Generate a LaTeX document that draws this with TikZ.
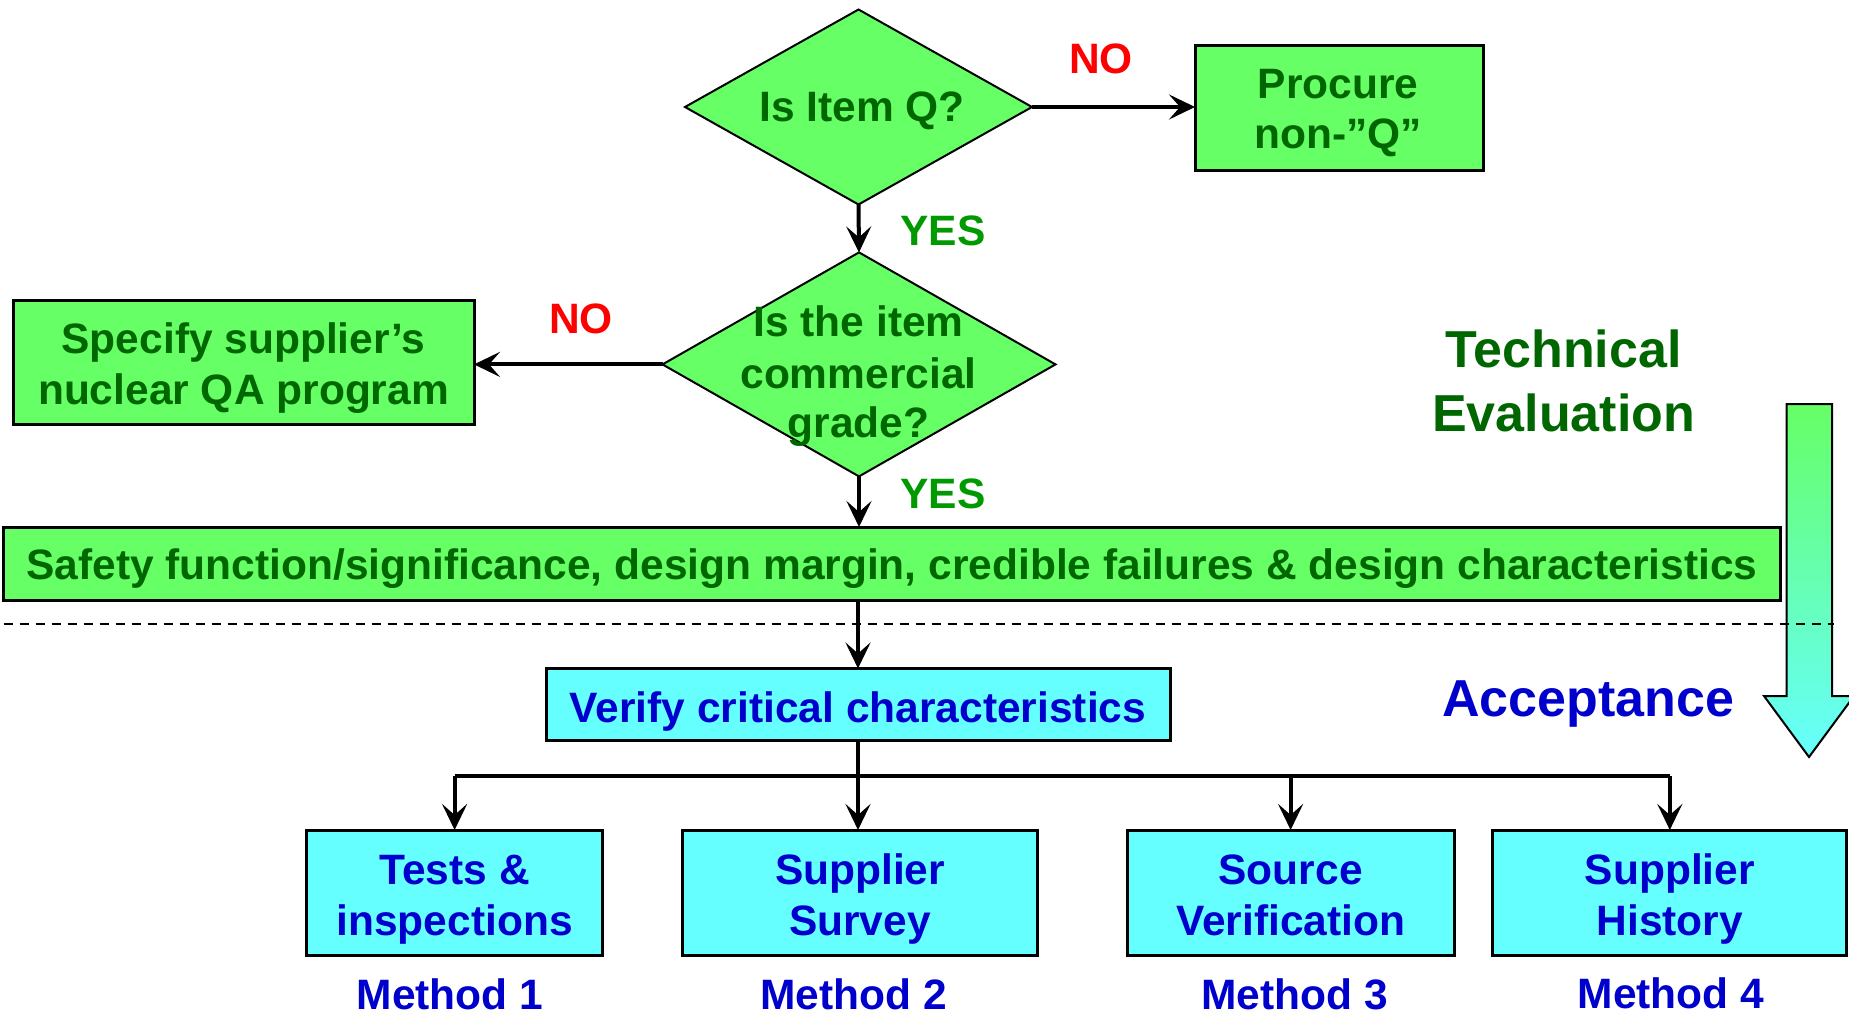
\documentclass[tikz,border=0pt]{standalone}
\usepackage{fontspec}
\setmainfont{Liberation Sans}
\usetikzlibrary{arrows.meta,shapes.geometric}
\definecolor{gfill}{HTML}{66FF66}
\definecolor{cfill}{HTML}{66FFFF}
\definecolor{dgreen}{HTML}{006600}
\definecolor{ygreen}{HTML}{009900}
\definecolor{dblue}{HTML}{0000CC}
\definecolor{nred}{HTML}{FF0000}
\begin{document}
\begin{tikzpicture}[x=1pt,y=-1pt,
 gbox/.style={draw=black,line width=3pt,fill=gfill,inner sep=0pt,outer sep=0pt},
 cbox/.style={draw=black,line width=3pt,fill=cfill,inner sep=0pt,outer sep=0pt},
 dia/.style={diamond,draw=black,line width=2pt,fill=gfill,inner sep=0pt,outer sep=0pt},
 lbl/.style={inner sep=0pt,anchor=base,font=\fontsize{42.5}{51}\selectfont\bfseries},
 gtxt/.style={lbl,text=dgreen},
 btxt/.style={lbl,text=dblue},
 ytxt/.style={lbl,text=ygreen},
 ntxt/.style={lbl,text=nred},
 bigtxt/.style={inner sep=0pt,anchor=base,font=\fontsize{52}{64}\selectfont\bfseries},
 arr/.style={line width=4pt,-{Stealth[length=26pt,width=25pt,inset=11pt]}},
 conn/.style={line width=4pt},
]
\useasboundingbox (0,0) rectangle (1849,1015);
\fill[white] (0,0) rectangle (1849,1015);

% diamonds
\node[dia,minimum width=347pt,minimum height=195pt] (d1) at (858.5,107) {};
\node[gtxt] (d1t) at (862,121) {Is Item Q?};
\node[dia,minimum width=393pt,minimum height=224pt] (d2) at (859,364.4) {};
\node[gtxt] (d2a) at (858.5,336) {Is the item};
\node[gtxt] (d2b) at (858.5,388) {commercial};
\node[gtxt] (d2c) at (858.5,437) {grade?};

% top boxes
\node[gbox,minimum width=288pt,minimum height=125pt] (proc) at (1339,107.5) {};
\node[gtxt] (proca) at (1338,98) {Procure};
\node[gtxt] (procb) at (1338,148.5) {non-”Q”};
\node[gbox,minimum width=461pt,minimum height=124pt] (spec) at (243.5,362.7) {};
\node[gtxt] (speca) at (243.5,353) {Specify supplier’s};
\node[gtxt] (specb) at (243.5,404) {nuclear QA program};

% bar
\node[gbox,minimum width=1777pt,minimum height=73pt] (bar) at (892,563.5) {};
\node[gtxt] (bart) at (892,579) {Safety function/significance, design margin, credible failures \& design characteristics};

% verify
\node[cbox,minimum width=624pt,minimum height=72pt] (ver) at (858,704.5) {};
\node[btxt] (vert) at (858,722) {Verify critical characteristics};

% bottom boxes
\node[cbox,minimum width=296pt,minimum height=125pt] (tests) at (454.6,892.5) {};
\node[cbox,minimum width=355pt,minimum height=125pt] (surv) at (860,892.5) {};
\node[cbox,minimum width=327pt,minimum height=125pt] (src) at (1290.6,892.5) {};
\node[cbox,minimum width=354pt,minimum height=125pt] (hist) at (1669.8,892.5) {};
\node[btxt] (testsa) at (454.6,884.5) {Tests \&};
\node[btxt] (testsb) at (454.6,935) {inspections};
\node[btxt] (surva) at (860,884.5) {Supplier};
\node[btxt] (survb) at (860,935) {Survey};
\node[btxt] (srca) at (1290.6,884.5) {Source};
\node[btxt] (srcb) at (1290.6,935) {Verification};
\node[btxt] (hista) at (1669.8,884.5) {Supplier};
\node[btxt] (histb) at (1669.8,935) {History};
\node[btxt] (m1) at (450,1009) {Method 1};
\node[btxt] (m2) at (853.7,1009) {Method 2};
\node[btxt] (m3) at (1294.8,1009) {Method 3};
\node[btxt] (m4) at (1671,1008) {Method 4};

% labels
\node[ntxt] (no1) at (1101,73) {NO};
\node[ytxt] (yes1) at (943,245) {YES};
\node[ntxt] (no2) at (581,333) {NO};
\node[ytxt] (yes2) at (943,508.5) {YES};
\node[bigtxt,text=dgreen] (tech1) at (1563.6,367.5) {Technical};
\node[bigtxt,text=dgreen] (tech2) at (1563.6,431) {Evaluation};
\node[bigtxt,text=dblue] (acc) at (1588,716) {Acceptance};

% connectors
\draw[arr] (d1.east) -- (d1.east -| proc.west);
\draw[arr] (d1.south) -- (d2.north);
\draw[arr] (d2.west) -- (d2.west -| spec.east);
\draw[arr] (d2.south) -- (d2.south |- bar.north);
\draw[arr] (bar.south -| ver.north) -- (ver.north);
\coordinate (br) at (858,776);
\draw[conn] (tests.north |- br) -- (hist.north |- br);
\draw[arr] (ver.south) -- (ver.south |- surv.north);
\draw[arr] (tests.north |- br) -- (tests.north);
\draw[arr] (src.north |- br) -- (src.north);
\draw[arr] (hist.north |- br) -- (hist.north);

% big arrow
\coordinate (a1) at (1786.7,404);
\coordinate (a2) at (1832,404);
\coordinate (a3) at (1832,696);
\coordinate (a4) at (1854,696);
\coordinate (a5) at (1809,757);
\coordinate (a6) at (1764,696);
\coordinate (a7) at (1786.7,696);
\shadedraw[top color=gfill,bottom color=cfill,draw=black,line width=2pt]
  (a1) -- (a2) -- (a3) -- (a4) -- (a5) -- (a6) -- (a7) -- cycle;

% dashed line
\coordinate (dl) at (3.5,624);
\coordinate (dr) at (1834,624);
\draw[line width=1.5pt,dash pattern=on 9pt off 7pt] (dl) -- (dr);
\end{tikzpicture}
\end{document}
